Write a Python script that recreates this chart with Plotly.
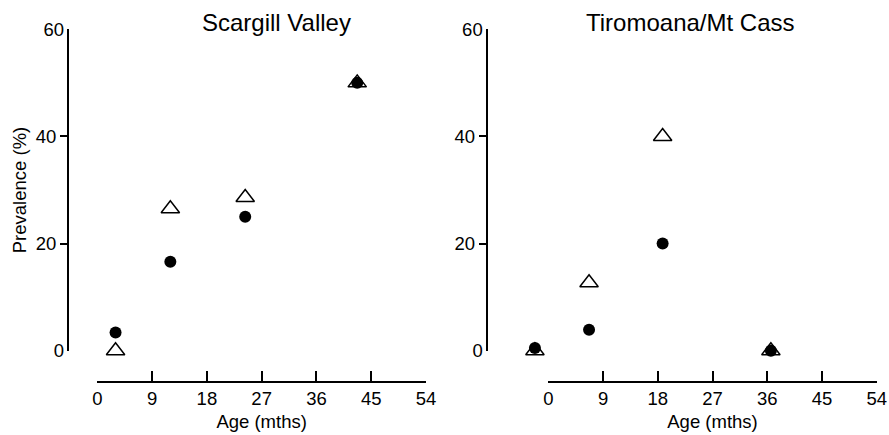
import plotly.graph_objects as go

W, H = 889, 435

# ---- data ----
sv_age = [3.0, 12.0, 24.3, 42.7]
sv_circle = [3.4, 16.6, 25.0, 50.0]
sv_triangle = [0.0, 26.5, 28.6, 50.0]

tm_age = [-2.2, 6.7, 18.8, 36.6]
tm_circle = [0.5, 3.9, 20.0, 0.0]
tm_triangle = [0.0, 12.7, 40.0, 0.0]

x_ticks = [0, 9, 18, 27, 36, 45, 54]
y_ticks_out = [20, 40]
y_ticks_in = [0, 60]

titles = ["Scargill Valley", "Tiromoana/Mt Cass"]
x_title = "Age (mths)"
y_title = "Prevalence (%)"

X_MIN, X_MAX = 0, 54
Y_MIN, Y_MAX = 0, 60


def px(x):
    return x / W


def py(y):
    return 1 - y / H


FONT = "Liberation Sans, Arial, sans-serif"
LW = 1.8
fig = go.Figure()

tri = dict(symbol="triangle-up-open", size=16, color="black", line=dict(width=1.5, color="black"))
dot = dict(symbol="circle", size=12, color="black", line=dict(width=0))

# Panel geometry (screen pixels)
L_YLINE, L_X0, L_X1, L_XLINE = 68.0, 97.3, 426.0, 382.0
R_YLINE, R_X0, R_X1, R_XLINE = 486.7, 548.3, 876.7, 381.5
Y_TOP, Y_BOT = 29.3, 350.7


# data axes span from the y-axis line to the end of the visible age axis,
# with a range chosen so the scale is identical to the visible 0-54 axis
def data_range(yline, x0, x1):
    k = (x1 - x0) / (X_MAX - X_MIN)
    return [X_MIN - (x0 - yline) / k, X_MAX]


fig.add_trace(go.Scatter(x=sv_age, y=sv_triangle, mode="markers", marker=tri,
                         xaxis="x", yaxis="y", cliponaxis=False, showlegend=False))
fig.add_trace(go.Scatter(x=sv_age, y=sv_circle, mode="markers", marker=dot,
                         xaxis="x", yaxis="y", cliponaxis=False, showlegend=False))
fig.add_trace(go.Scatter(x=tm_age, y=tm_triangle, mode="markers", marker=tri,
                         xaxis="x2", yaxis="y2", cliponaxis=False, showlegend=False))
fig.add_trace(go.Scatter(x=tm_age, y=tm_circle, mode="markers", marker=dot,
                         xaxis="x2", yaxis="y2", cliponaxis=False, showlegend=False))
# empty traces so the display axes are drawn
fig.add_trace(go.Scatter(x=[], y=[], xaxis="x", yaxis="y3", showlegend=False))
fig.add_trace(go.Scatter(x=[], y=[], xaxis="x2", yaxis="y4", showlegend=False))
fig.add_trace(go.Scatter(x=[], y=[], xaxis="x3", yaxis="y", showlegend=False))
fig.add_trace(go.Scatter(x=[], y=[], xaxis="x4", yaxis="y2", showlegend=False))

ydom = [py(Y_BOT), py(Y_TOP)]
tickfont = dict(family=FONT, size=18.5, color="black")
titlefont = dict(family=FONT, size=18.5, color="black")

hidden_x = dict(visible=False, showgrid=False, zeroline=False, automargin=False)
shown_x = dict(range=[X_MIN, X_MAX], tickvals=x_ticks, ticks="inside", ticklen=10, tickwidth=LW,
               tickcolor="black", showline=True, linecolor="black", linewidth=LW,
               showgrid=False, zeroline=False, tickfont=tickfont, anchor="free", automargin=False,
               title=dict(text=x_title, font=titlefont, standoff=6))
common_y = dict(range=[Y_MIN, Y_MAX], domain=ydom, showgrid=False, zeroline=False, anchor="free",
                tickfont=tickfont, tickcolor="black", tickwidth=LW, automargin=False)

fig.update_layout(
    width=W, height=H,
    margin=dict(l=0, r=0, t=0, b=0),
    paper_bgcolor="white", plot_bgcolor="rgba(0,0,0,0)",
    showlegend=False,
    xaxis=dict(hidden_x, domain=[px(L_YLINE), px(L_X1)], range=data_range(L_YLINE, L_X0, L_X1),
               anchor="y"),
    xaxis2=dict(hidden_x, domain=[px(R_YLINE), px(R_X1)], range=data_range(R_YLINE, R_X0, R_X1),
                anchor="y2"),
    xaxis3=dict(shown_x, domain=[px(L_X0), px(L_X1)], position=py(L_XLINE)),
    xaxis4=dict(shown_x, domain=[px(R_X0), px(R_X1)], position=py(R_XLINE)),
    yaxis=dict(common_y, position=px(L_YLINE), tickvals=y_ticks_out, ticks="outside", ticklen=7,
               showline=True, linecolor="black", linewidth=LW,
               title=dict(text=y_title, font=titlefont, standoff=3)),
    yaxis2=dict(common_y, position=px(R_YLINE), tickvals=y_ticks_out, ticks="outside", ticklen=7,
                showline=True, linecolor="black", linewidth=LW),
    yaxis3=dict(common_y, overlaying="y", position=px(L_YLINE), tickvals=y_ticks_in, ticks="inside",
                ticklen=10, showline=False, side="left", ticklabelstandoff=4),
    yaxis4=dict(common_y, overlaying="y2", position=px(R_YLINE), tickvals=y_ticks_in, ticks="inside",
                ticklen=10, showline=False, side="left", ticklabelstandoff=4),
    annotations=[
        dict(text=titles[0], x=px(276), y=py(22), xref="paper", yref="paper", showarrow=False,
             xanchor="center", yanchor="middle", font=dict(family=FONT, size=24, color="black")),
        dict(text=titles[1], x=px(690.8), y=py(22), xref="paper", yref="paper", showarrow=False,
             xanchor="center", yanchor="middle", font=dict(family=FONT, size=24, color="black")),
    ],
)

# remove the page's default 8px body margin so the 889x435 figure fills the window exactly
fig.write_html("out.html",
               config={"displayModeBar": False},
               post_script="document.body.style.margin='0px';"
                           "document.documentElement.style.overflow='hidden';")
